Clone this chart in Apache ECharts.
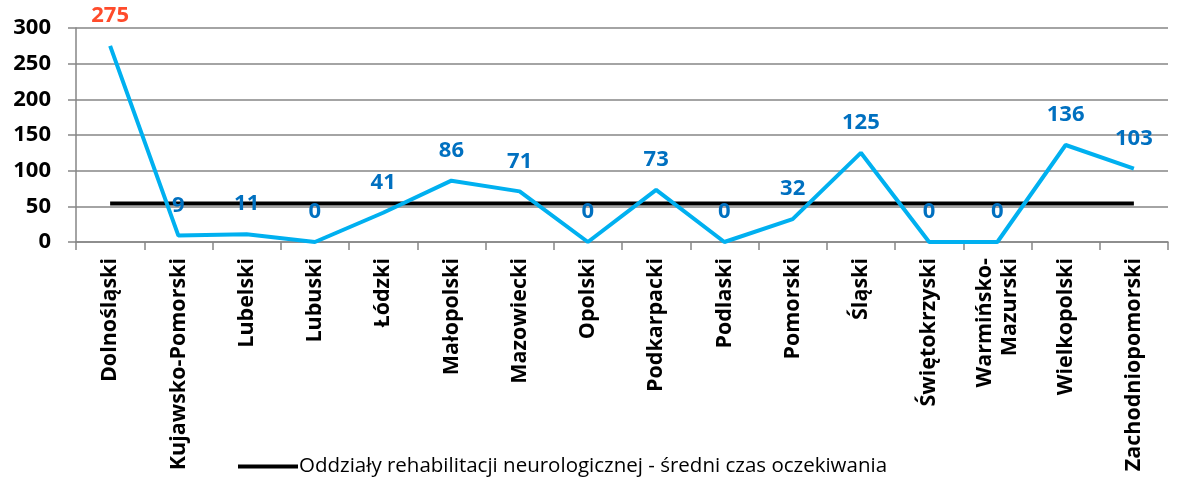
<!DOCTYPE html>
<html><head><meta charset="utf-8">
<script src="https://cdn.jsdelivr.net/npm/echarts@6/dist/echarts.min.js"></script>
<style>html,body{margin:0;padding:0;background:#fff}#c{width:1182px;height:482px}</style>
</head><body><div id="c"></div>
<script>
const categories = ["Dolnośląski","Kujawsko-Pomorski","Lubelski","Lubuski","Łódzki","Małopolski","Mazowiecki","Opolski","Podkarpacki","Podlaski","Pomorski","Śląski","Świętokrzyski","Warmińsko-\nMazurski","Wielkopolski","Zachodniopomorski"];
const waitValues = [275,9,11,0,41,86,71,0,73,0,32,125,0,0,136,103];
const averageValues = [54,54,54,54,54,54,54,54,54,54,54,54,54,54,54,54];
const yTicks = [0,50,100,150,200,250,300];
const legendName = "Oddziały rehabilitacji neurologicznej - średni czas oczekiwania";
const FONT = "Open Sans";
const chart = echarts.init(document.getElementById('c'), null, {renderer:'canvas'});
chart.setOption({
  animation:false,
  grid:{left:76,right:14,top:28,bottom:240,containLabel:false},
  legend:{
    data:[{name:legendName}],
    top:451, left:233,
    itemWidth:60, itemHeight:4, itemGap:4,
    icon:'rect',
    textStyle:{fontFamily:FONT,fontSize:20.5,color:'#000',padding:[0,0,0,-4]}
  },
  xAxis:{
    type:'category', data:categories, boundaryGap:true,
    axisLine:{lineStyle:{color:'#868686',width:1.5}},
    axisTick:{show:true,length:8,lineStyle:{color:'#868686',width:1.5},alignWithLabel:false},
    axisLabel:{rotate:90,interval:0,fontFamily:FONT,fontWeight:'bold',fontSize:21.5,color:'#000',margin:16,lineHeight:25}
  },
  yAxis:{
    type:'value', min:yTicks[0], max:yTicks[yTicks.length-1], interval:50,
    axisLine:{show:true,lineStyle:{color:'#868686',width:1.5}},
    axisTick:{show:true,length:8,lineStyle:{color:'#868686',width:1.5}},
    splitLine:{lineStyle:{color:'#868686',width:1.5}},
    axisLabel:{fontFamily:FONT,fontWeight:'bold',fontSize:22,color:'#000',margin:25}
  },
  series:[
    {
      name:'wait', type:'line', data:waitValues.map((v,i)=> i===0 ? {value:v,label:{color:'#FF4B2B'}} : v),
      symbol:'circle', symbolSize:0, showSymbol:true, lineStyle:{color:'#00B0F0',width:4}, itemStyle:{color:'#00B0F0'},
      label:{show:true,position:'top',distance:19,fontFamily:FONT,fontWeight:'bold',fontSize:22,color:'#0070C0'},
      labelLayout:{hideOverlap:false},
      z:3
    },
    {
      name:legendName, type:'line', data:averageValues,
      symbol:'none', lineStyle:{color:'#000',width:4}, itemStyle:{color:'#000'},
      z:2
    }
  ]
});
</script></body></html>
